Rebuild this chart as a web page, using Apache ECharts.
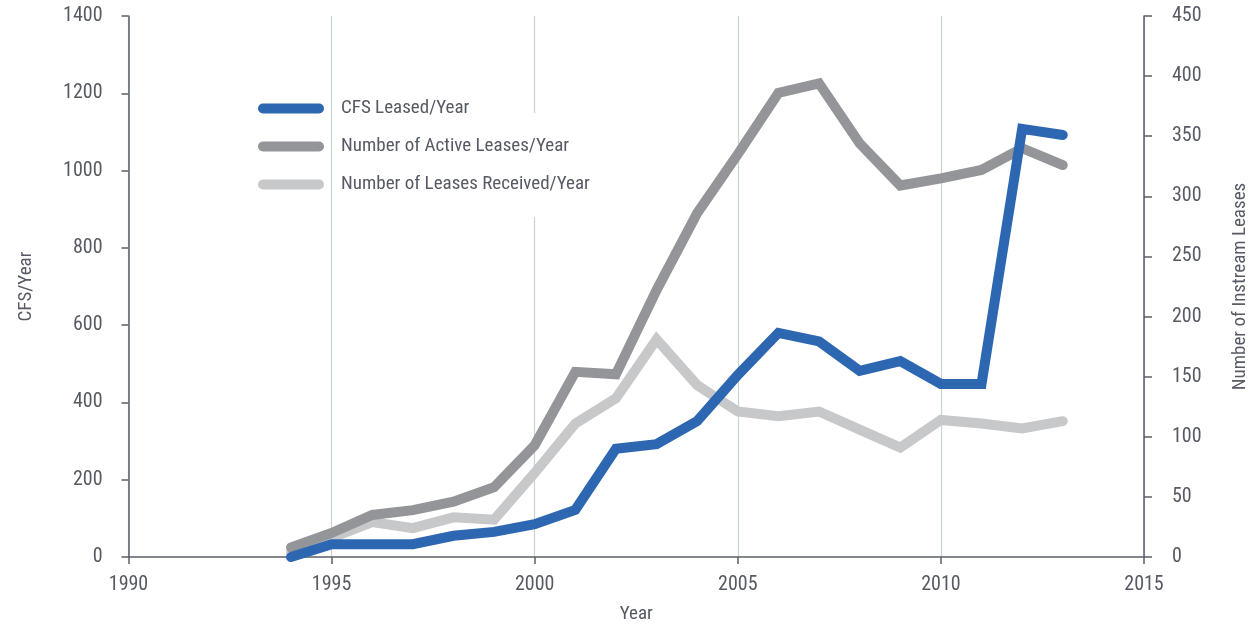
<!DOCTYPE html>
<html><head><meta charset="utf-8">
<script src="https://cdn.jsdelivr.net/npm/echarts@6/dist/echarts.min.js"></script>
<style>html,body{margin:0;padding:0;background:#fff}#c{width:1255px;height:624px}</style>
</head><body><div id="c"></div>
<script>
const years = [1994,1995,1996,1997,1998,1999,2000,2001,2002,2003,2004,2005,2006,2007,2008,2009,2010,2011,2012,2013];
const cfsLeased = [0,33,33,33,55,65,85,122,280,292,352,471,580,558,482,507,448,448,1108,1092];
const activeLeases = [8,20,35,39,46,58,93,154,152,222,286,335,386,394,344,309,315,322,340,326];
const leasesReceived = [4,16,29,24,33,31,70,111,132,181,143,121,117,121,106,91,114,111,107,113];
const leftTicks = [0,200,400,600,800,1000,1200,1400];
const rightTicks = [0,50,100,150,200,250,300,350,400,450];
const xTicks = [1990,1995,2000,2005,2010,2015];
const seriesNames = ['CFS Leased/Year','Number of Active Leases/Year','Number of Leases Received/Year'];

const condensed = '"Liberation Sans Narrow","Roboto Condensed","DejaVu Sans Condensed",sans-serif';
const txt = '#575a63';
const axisCol = '#5b5f68';
const pill = 'path://M5,0L61,0A5,5 0 0 1 61,10L5,10A5,5 0 0 1 5,0Z';
const plain = v => String(v);

const chart = echarts.init(document.getElementById('c'));
const pair = arr => years.map((y,i)=>[y,arr[i]]);
const tickLabel = {fontFamily:condensed,fontSize:20,color:txt};
chart.setOption({
  animation:false,
  grid:{left:128.5,right:111,top:16,bottom:67,containLabel:false,outerBoundsMode:'none'},
  graphic:[{type:'rect',left:340,top:113,shape:{width:270,height:104},style:{fill:'#fff'},z:1,silent:true}],
  legend:{
    left:253,top:94,orient:'vertical',itemWidth:66,itemHeight:10,itemGap:19,
    icon:pill,
    textStyle:{fontFamily:condensed,fontSize:19,color:txt,padding:[0,0,0,12]},
    data:seriesNames,z:5
  },
  xAxis:{
    type:'value',min:xTicks[0],max:xTicks[xTicks.length-1],interval:5,
    name:'Year',nameLocation:'middle',nameGap:48,
    nameTextStyle:{fontFamily:condensed,fontSize:19,color:txt},
    axisLine:{show:true,lineStyle:{color:axisCol,width:1.5}},
    axisTick:{show:true,length:7,lineStyle:{color:axisCol,width:1.5}},
    axisLabel:Object.assign({margin:18,formatter:plain},tickLabel),
    splitLine:{show:true,lineStyle:{color:'#c9d3d4',width:1.2}}
  },
  yAxis:[{
    type:'value',min:leftTicks[0],max:leftTicks[leftTicks.length-1],interval:200,
    name:'CFS/Year',nameLocation:'middle',nameGap:93,nameRotate:90,
    nameTextStyle:{fontFamily:condensed,fontSize:19,color:txt},
    axisLine:{show:true,lineStyle:{color:axisCol,width:1.5}},
    axisTick:{show:true,length:7,lineStyle:{color:axisCol,width:1.5}},
    axisLabel:Object.assign({margin:26,formatter:plain},tickLabel),
    splitLine:{show:false}
  },{
    type:'value',position:'right',min:rightTicks[0],max:rightTicks[rightTicks.length-1],interval:50,
    name:'Number of Instream Leases',nameLocation:'middle',nameGap:87,nameRotate:90,
    nameTextStyle:{fontFamily:condensed,fontSize:19,color:txt},
    axisLine:{show:true,lineStyle:{color:axisCol,width:1.5}},
    axisTick:{show:true,length:8,lineStyle:{color:axisCol,width:1.5}},
    axisLabel:Object.assign({margin:28,formatter:plain},tickLabel),
    splitLine:{show:false}
  }],
  series:[
    {name:seriesNames[2],type:'line',yAxisIndex:1,data:pair(leasesReceived),symbol:'none',color:'#c7c8ca',lineStyle:{width:10,cap:'round',join:'miter'},z:2},
    {name:seriesNames[1],type:'line',yAxisIndex:1,data:pair(activeLeases),symbol:'none',color:'#939598',lineStyle:{width:10,cap:'round',join:'miter'},z:3},
    {name:seriesNames[0],type:'line',yAxisIndex:0,data:pair(cfsLeased),symbol:'none',color:'#2e67b1',lineStyle:{width:10,cap:'round',join:'miter'},z:4}
  ]
});
</script></body></html>
